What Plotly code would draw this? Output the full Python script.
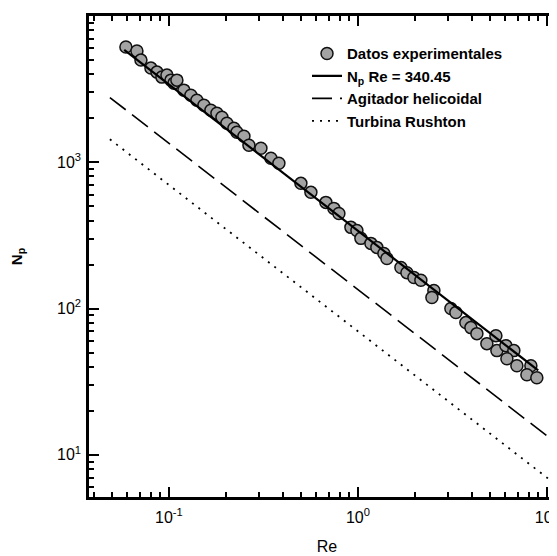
import plotly.graph_objects as go

re_data = [0.0592, 0.0677, 0.0711, 0.0803, 0.0864, 0.0918, 0.0976, 0.1025, 0.1063, 0.1102,
           0.1200, 0.1307, 0.1406, 0.1532, 0.1668, 0.1795, 0.1908, 0.2027, 0.2208, 0.2290,
           0.2494, 0.2651, 0.3068, 0.3466, 0.3819, 0.4993, 0.5640, 0.6771, 0.7464, 0.7933,
           0.9184, 0.9879, 1.037, 1.172, 1.260, 1.373, 1.424, 1.689, 1.817, 1.979,
           2.154, 2.524, 2.464, 3.105, 3.300, 3.727, 3.962, 4.263, 4.814, 5.374,
           5.438, 6.070, 6.69, 6.145, 6.94, 8.23, 7.84, 8.85]
np_data = [6135, 5757, 4996, 4404, 4134, 3821, 3944, 3644, 3476, 3644,
           3113, 2877, 2659, 2457, 2271, 2166, 2033, 1850, 1710, 1606,
           1507, 1308, 1247, 1065, 984, 718, 623, 532, 484, 447,
           359, 342, 302, 279, 262, 238, 220, 191, 176, 163,
           156, 133, 119, 100, 93.9, 80.2, 74.1, 67.4, 57.6, 65.3,
           51.6, 55.8, 51.6, 45.4, 40.7, 40.7, 35.3, 33.7]

# Correlation line Np*Re = 340.45 (end points)
fit_re = [0.058, 9.0]
fit_np = [5870, 37.8]

# Helical agitator line (end points)
hel_re = [0.0487, 12.0]
hel_np = [2772, 11.25]

# Rushton turbine line (end points)
rus_re = [0.0487, 12.0]
rus_np = [1437, 5.83]

x_tickvals = [0.1, 1, 10]
x_ticktext = ["10<sup>-1</sup>", "10<sup>0</sup>", "10<sup>1</sup>"]
y_tickvals = [10, 100, 1000, 10000]
y_ticktext = ["10<sup>1</sup>", "10<sup>2</sup>", "10<sup>3</sup>", "10<sup>4</sup>"]

x_minor = [m * d for d in [0.01, 0.1, 1, 10] for m in range(2, 10)]
y_minor = [m * d for d in [1, 10, 100, 1000] for m in range(2, 10)]

FONT = "Liberation Sans, Arial, Helvetica, sans-serif"

fig = go.Figure()
fig.add_trace(go.Scatter(
    x=re_data, y=np_data, mode="markers", name="Datos experimentales",
    marker=dict(symbol="circle", size=12, color="#a3a3a3",
                line=dict(color="#111111", width=1.5))))
fig.add_trace(go.Scatter(
    x=fit_re, y=fit_np, mode="lines", name="N<sub>p</sub> Re = 340.45",
    line=dict(color="black", width=2.2)))
fig.add_trace(go.Scatter(
    x=hel_re, y=hel_np, mode="lines", name="Agitador helicoidal",
    line=dict(color="black", width=1.6, dash="20px,8px")))
fig.add_trace(go.Scatter(
    x=rus_re, y=rus_np, mode="lines", name="Turbina Rushton",
    line=dict(color="black", width=1.8, dash="2px,6px")))

axis_common = dict(
    type="log", showgrid=False, zeroline=False, showline=True,
    linecolor="black", linewidth=2.5, ticks="inside", ticklen=10,
    tickwidth=2, tickcolor="black", automargin=False, mirror="ticks",
    tickfont=dict(family=FONT, size=16, color="black"),
)

fig.update_xaxes(
    **axis_common, range=[-1.423, 1.096],
    tickvals=x_tickvals, ticktext=x_ticktext, ticklabelstandoff=4,
    minor=dict(tickvals=x_minor, ticks="inside", ticklen=5, tickwidth=1.5,
               tickcolor="black", showgrid=False),
    title=dict(text="Re", font=dict(family=FONT, size=16, color="black"),
               standoff=16),
)
fig.update_yaxes(
    **axis_common, range=[0.712, 4.0],
    tickvals=y_tickvals, ticktext=y_ticktext, ticklabelstandoff=2,
    minor=dict(tickvals=y_minor, ticks="inside", ticklen=5, tickwidth=1.5,
               tickcolor="black", showgrid=False),
    title=dict(text="<b>N<sub>p</sub></b>", font=dict(family=FONT, size=15, color="black"),
               standoff=34),
)

# the page adds a small offset, margins compensate for it
fig.update_layout(
    width=557, height=556,
    margin=dict(l=81, r=0, t=8, b=67),
    paper_bgcolor="white", plot_bgcolor="white",
    showlegend=True,
    legend=dict(
        x=0.458, y=0.956, xanchor="left", yanchor="top",
        bgcolor="rgba(0,0,0,0)", borderwidth=0,
        font=dict(family=FONT, size=15, color="black", weight="bold"),
        tracegroupgap=0, itemwidth=30,
    ),
)

fig.write_html("out.html")
